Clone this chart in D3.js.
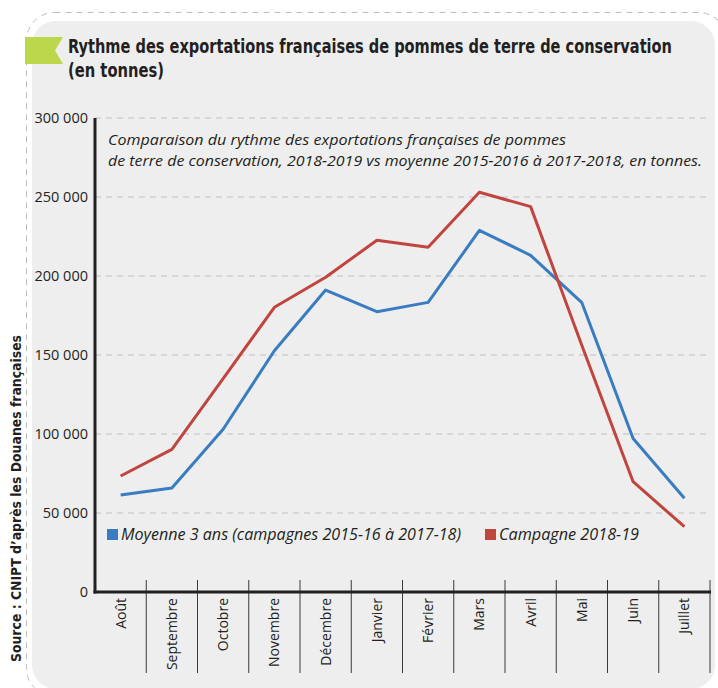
<!DOCTYPE html>
<html>
<head>
<meta charset="utf-8">
<script src="https://cdn.jsdelivr.net/npm/d3@7"></script>
<style>
  body { margin: 0; background: #ffffff; }
  svg { display: block; }
</style>
</head>
<body>
<script>
// chart size
var width = 718, height = 688;

// data (tonnes)
var months = ["Août", "Septembre", "Octobre", "Novembre", "Décembre", "Janvier", "Février", "Mars", "Avril", "Mai", "Juin", "Juillet"];
var moyenne = [61400, 65800, 103000, 152700, 191100, 177400, 183300, 228900, 213100, 183100, 97200, 59300];
var campagne = [73400, 90300, 135000, 180200, 199200, 222600, 218200, 253000, 243900, 156000, 69800, 41300];
var yTicks = [0, 50000, 100000, 150000, 200000, 250000, 300000];
var seriesNames = ["Moyenne 3 ans (campagnes 2015-16 à 2017-18)", "Campagne 2018-19"];

var blue = '#3a7cc1', red = '#c1453f', ink = '#231f20';
var condensed = '"Liberation Sans Narrow", "DejaVu Sans Condensed", "Roboto", sans-serif';
var body = '"Open Sans", "Noto Sans", sans-serif';

var fr = d3.formatLocale({ decimal: ',', thousands: '\u00a0', grouping: [3], currency: ['', ' €'] });
var fmt = fr.format(',d');

// plot area (window.top is taken, so p_ names)
var p_left = 95, p_right = 710, p_top = 118, p_bottom = 592;

var svg = d3.select('body').append('svg').attr('width', width).attr('height', height);

// squeeze a text to the width it has in the picture
function fit(sel, w) {
	sel.attr('textLength', w).attr('lengthAdjust', 'spacingAndGlyphs');
	return sel;
}

function draw_frame() {
	svg.append('rect').attr('x', 26.5).attr('y', 12.5).attr('width', 700).attr('height', 684).attr('rx', 28)
		.attr('fill', 'none').attr('stroke', '#bdbdbd').attr('stroke-width', 1).attr('stroke-dasharray', '6,5');
	svg.append('rect').attr('x', 32).attr('y', 21).attr('width', 683).attr('height', 668).attr('rx', 24)
		.attr('fill', '#eeeeee');

	// green ribbon
	svg.append('path').attr('d', 'M25,37 L63,37 L55,50.5 L63,64 L25,64 Z').attr('fill', '#bdd74c');

	fit(svg.append('text').attr('x', 68).attr('y', 53).attr('font-family', condensed).attr('font-weight', 'bold')
		.attr('font-size', 20).attr('fill', ink)
		.text('Rythme des exportations françaises de pommes de terre de conservation'), 604);
	fit(svg.append('text').attr('x', 68).attr('y', 77).attr('font-family', condensed).attr('font-weight', 'bold')
		.attr('font-size', 20).attr('fill', ink).text('(en tonnes)'), 96);

	fit(svg.append('text').attr('transform', 'translate(21,662) rotate(-90)').attr('font-family', condensed)
		.attr('font-weight', 'bold').attr('font-size', 14).attr('fill', ink)
		.text('Source : CNIPT d\u2019après les Douanes françaises'), 327);
}

function plot_data() {
	var x = d3.scaleBand().domain(months).range([p_left, p_right]);
	var y = d3.scaleLinear().domain([0, 300000]).range([p_bottom, p_top]);
	var g = svg.append('g');

	// dashed grid
	g.selectAll('.grid').data(yTicks.slice(1)).enter().append('line')
		.attr('x1', p_left).attr('x2', p_right - 3).attr('y1', d => y(d)).attr('y2', d => y(d))
		.attr('stroke', '#cfcfcf').attr('stroke-width', 1.5).attr('stroke-dasharray', '6,5');

	// y labels
	g.selectAll('.ylab').data(yTicks).enter().append('text')
		.attr('x', 88).attr('y', d => y(d) + 5).attr('text-anchor', 'end')
		.attr('font-family', body).attr('font-size', 14.5).attr('fill', ink)
		.text(d => fmt(d));

	// subtitle
	fit(g.append('text').attr('x', 108).attr('y', 145).attr('font-family', body).attr('font-style', 'italic')
		.attr('font-size', 14.5).attr('fill', ink)
		.text('Comparaison du rythme des exportations françaises de pommes'), 458);
	fit(g.append('text').attr('x', 108).attr('y', 166).attr('font-family', body).attr('font-style', 'italic')
		.attr('font-size', 14.5).attr('fill', ink)
		.text('de terre de conservation, 2018-2019 vs moyenne 2015-2016 à 2017-2018, en tonnes.'), 594);

	// month separators and labels
	g.selectAll('.sep').data(months).enter().append('line')
		.attr('x1', d => x(d) + x.bandwidth()).attr('x2', d => x(d) + x.bandwidth())
		.attr('y1', 580).attr('y2', 673).attr('stroke', '#3a3a3a').attr('stroke-width', 1);
	g.selectAll('.mlab').data(months).enter().append('text')
		.attr('transform', d => 'translate(' + (x(d) + x.bandwidth() / 2 + 5) + ',598) rotate(-90)')
		.attr('text-anchor', 'end').attr('font-family', body).attr('font-size', 14).attr('fill', ink)
		.text(d => d);

	// lines
	var line = d3.line().x((d, i) => x(months[i]) + x.bandwidth() / 2).y(d => y(d));
	g.append('path').datum(moyenne).attr('d', line).attr('fill', 'none')
		.attr('stroke', blue).attr('stroke-width', 3).attr('stroke-linejoin', 'round');
	g.append('path').datum(campagne).attr('d', line).attr('fill', 'none')
		.attr('stroke', red).attr('stroke-width', 3).attr('stroke-linejoin', 'round');

	// axes
	g.append('line').attr('x1', p_left).attr('x2', p_left).attr('y1', p_top).attr('y2', p_bottom + 1.5)
		.attr('stroke', ink).attr('stroke-width', 3);
	g.append('line').attr('x1', p_left - 1.5).attr('x2', p_right + 1).attr('y1', p_bottom).attr('y2', p_bottom)
		.attr('stroke', ink).attr('stroke-width', 3);

	// legend
	var legend = [
		{ name: seriesNames[0], color: blue, x: 107, w: 340 },
		{ name: seriesNames[1], color: red, x: 485, w: 140 }
	];
	var lg = g.selectAll('.legend').data(legend).enter().append('g')
		.attr('transform', d => 'translate(' + d.x + ',0)');
	lg.append('rect').attr('x', 0).attr('y', 529).attr('width', 11).attr('height', 11).attr('fill', d => d.color);
	lg.append('text').attr('x', 14).attr('y', 540).attr('font-family', body).attr('font-style', 'italic')
		.attr('font-size', 15.5).attr('fill', ink).attr('textLength', d => d.w)
		.attr('lengthAdjust', 'spacingAndGlyphs').text(d => d.name);
}

draw_frame();
plot_data();
</script>
</body>
</html>
